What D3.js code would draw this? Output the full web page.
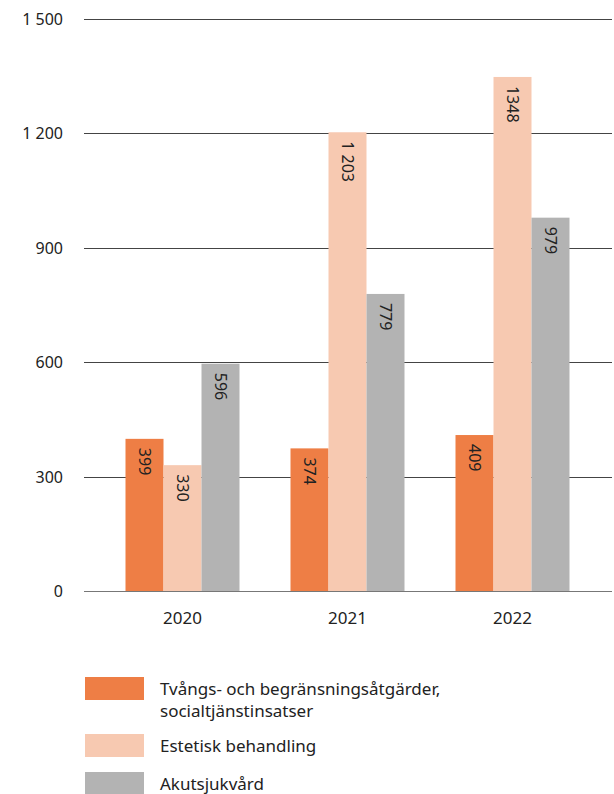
<!DOCTYPE html>
<html>
<head>
<meta charset="utf-8">
<script src="https://cdn.jsdelivr.net/npm/d3@7"></script>
<style>
body{margin:0;background:#fff;font-family:"Noto Sans",sans-serif;}
</style>
</head>
<body>
<div id="chart"></div>
<script>
var years = ["2020","2021","2022"]
var seriesNames = ["Tvångs- och begränsningsåtgärder, socialtjänstinsatser","Estetisk behandling","Akutsjukvård"]
var tvang = [399,374,409]
var estetisk = [330,1203,1348]
var akut = [596,779,979]
var yTicks = [0,300,600,900,1200,1500]
// labels as printed on the bars (the 2022 one has no thousands space)
var tvangLabels = ["399","374","409"]
var estetiskLabels = ["330","1 203","1348"]
var akutLabels = ["596","779","979"]

var colors = ["#ee7e45","#f7c9b1","#b3b3b3"]
var fmt = function(v){ return d3.format(",")(v).replace(/,/g," ") }

var width = 614, height = 794
var svg = d3.select("#chart").append("svg")
	.attr("width",width).attr("height",height)

var series = [tvang,estetisk,akut]
var labels = [tvangLabels,estetiskLabels,akutLabels]

var x = d3.scaleBand()
	.domain(years)
	.range([100,595])
var inner = d3.scaleBand()
	.domain(d3.range(series.length))
	.range([0,114])
var y = d3.scaleLinear()
	.domain([0,1500])
	.range([591,19])

// grid + y labels
var yAxis = svg.append("g")
yAxis.selectAll("line").data(yTicks).enter().append("line")
	.attr("x1",84).attr("x2",612)
	.attr("y1",function(d){return Math.round(y(d))+0.5})
	.attr("y2",function(d){return Math.round(y(d))+0.5})
	.attr("stroke",function(d){return d==0?"#777":"#444"})
	.attr("stroke-width",1)
yAxis.selectAll("text").data(yTicks).enter().append("text")
	.attr("x",63)
	.attr("y",function(d){return y(d)+6})
	.attr("text-anchor","end")
	.attr("font-size",16)
	.attr("fill","#222")
	.text(fmt)

// bars
var groups = svg.selectAll(".grp").data(years).enter().append("g")
	.attr("transform",function(d){return "translate("+(x(d)+x.bandwidth()/2-57)+",0)"})

groups.each(function(yr,i){
	var g = d3.select(this)
	series.forEach(function(s,k){
		g.append("rect")
			.attr("x",inner(k))
			.attr("y",y(s[i]))
			.attr("width",inner.bandwidth())
			.attr("height",y(0)-y(s[i]))
			.attr("fill",colors[k])
		var cx = inner(k)+inner.bandwidth()/2
		var ty = y(s[i])+9
		g.append("text")
			.attr("transform","translate("+(cx-6)+","+ty+") rotate(90)")
			.attr("font-size",16)
			.attr("fill","#222")
			.text(labels[k][i])
	})
})

// x labels
svg.selectAll(".xl").data(years).enter().append("text")
	.attr("x",function(d){return x(d)+x.bandwidth()/2})
	.attr("y",624)
	.attr("text-anchor","middle")
	.attr("font-size",17)
	.attr("fill","#222")
	.text(function(d){return d})

// legend
var legY = [677,734,772]
var legLines = [["Tvångs- och begränsningsåtgärder,","socialtjänstinsatser"],["Estetisk behandling"],["Akutsjukvård"]]
seriesNames.forEach(function(n,k){
	svg.append("rect")
		.attr("x",85).attr("y",legY[k])
		.attr("width",59).attr("height",23)
		.attr("fill",colors[k])
	var t = svg.append("text")
		.attr("x",160).attr("y",legY[k]+18)
		.attr("font-size",17)
		.attr("fill","#222")
	legLines[k].forEach(function(l,j){
		t.append("tspan").attr("x",160).attr("dy",j==0?0:22).text(l)
	})
})
</script>
</body>
</html>
